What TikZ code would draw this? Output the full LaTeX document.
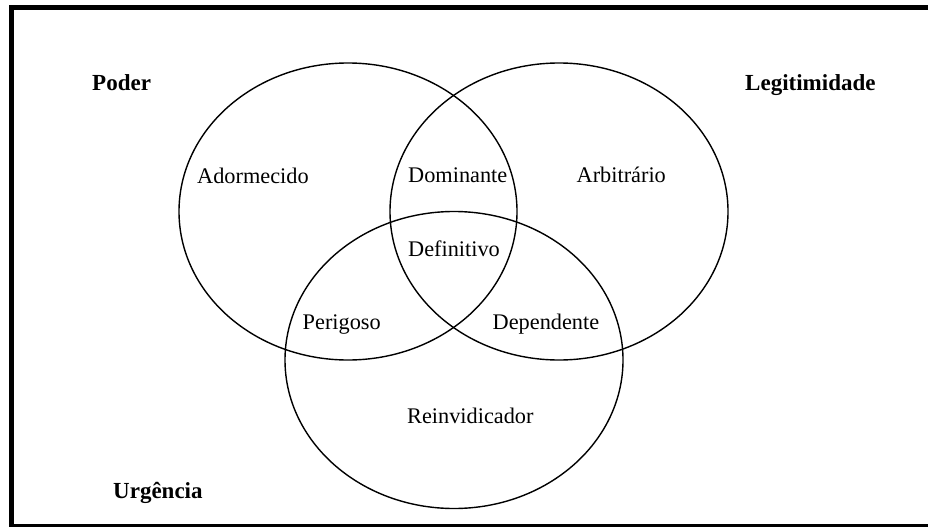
\documentclass[tikz,border=0pt]{standalone}
\usepackage{fontspec}
\setmainfont{Liberation Serif}
\begin{document}
\begin{tikzpicture}[x=1pt,y=-1pt,
  lbl/.style={anchor=base west,inner sep=0pt,font=\fontsize{22.3}{26}\selectfont},
  ttl/.style={anchor=base west,inner sep=0pt,font=\fontsize{23}{26}\selectfont\bfseries},
  setline/.style={draw=black,line width=1.4pt},
  frameline/.style={fill=black}]
\useasboundingbox (0,0) rectangle (928,527);
% frame
\fill[frameline] (9,5) rectangle (928,10);
\fill[frameline] (9,5) rectangle (14,527);
\fill[frameline] (9,523.5) rectangle (928,527);
% sets
\draw[setline] (348,211.5) ellipse [x radius=169pt, y radius=148.5pt];
\draw[setline] (559,211.5) ellipse [x radius=169pt, y radius=148.5pt];
\draw[setline] (454,360) ellipse [x radius=169pt, y radius=148.5pt];
% titles
\node[ttl] (poder) at (92,90) {Poder};
\node[ttl] (legit) at (745,90.5) {Legitimidade};
\node[ttl] (urg) at (113,498) {Urgência};
% region labels
\node[lbl] (ador) at (197,183) {Adormecido};
\node[lbl] (domi) at (408,182.5) {Dominante};
\node[lbl] (arbi) at (576.5,182.5) {Arbitrário};
\node[lbl] (defi) at (408,256) {Definitivo};
\node[lbl] (peri) at (302.5,329) {Perigoso};
\node[lbl] (depe) at (492.5,329) {Dependente};
\node[lbl] (rein) at (407,423) {Reinvidicador};
\end{tikzpicture}
\end{document}
